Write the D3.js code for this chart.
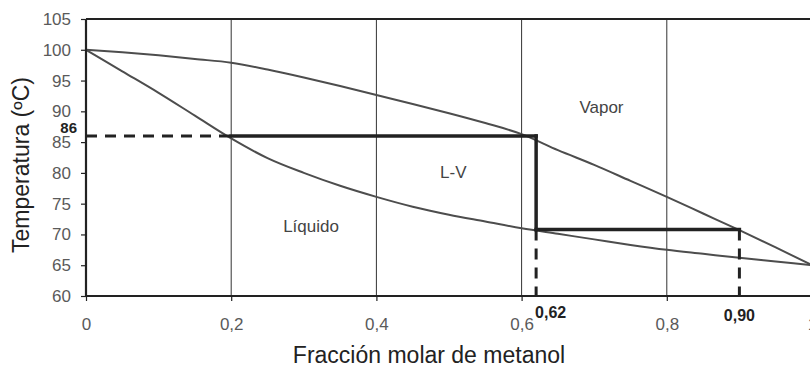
<!DOCTYPE html>
<html>
<head>
<meta charset="utf-8">
<script src="https://cdn.jsdelivr.net/npm/d3@7"></script>
<style>
  html, body { margin: 0; padding: 0; background: #fff; }
  svg { display: block; font-family: "Liberation Sans", Arial, sans-serif; }
</style>
</head>
<body>
<svg id="chart" width="810" height="367"></svg>
<script>
// Methanol–water T-x-y diagram at 1 atm
const composition = [0, 0.05, 0.1, 0.15, 0.2, 0.25, 0.3, 0.35, 0.4, 0.45, 0.5,
                     0.55, 0.6, 0.65, 0.7, 0.75, 0.8, 0.85, 0.9, 0.95, 1.0];
// bubble-point (liquid) curve, ºC
const liquidTemp = [100, 96.5, 93.0, 89.3, 85.6, 82.4, 80.0, 77.9, 76.1, 74.5, 73.2,
                    72.1, 71.0, 70.1, 69.2, 68.3, 67.5, 66.85, 66.2, 65.6, 65.0];
// dew-point (vapor) curve, ºC
const vaporTemp = [100, 99.6, 99.1, 98.5, 97.9, 96.8, 95.5, 94.1, 92.65, 91.2, 89.7,
                   88.1, 86.3, 83.7, 81.3, 78.7, 76.1, 73.4, 70.7, 67.9, 65.0];

// flash construction: feed heated to 86 ºC, then stepped down
const feedX = 0.2;
const stepX = [0.62, 0.90];
const stepT = [86, 70.8];
const stepXLabels = ["0,62", "0,90"];
const stepTLabel = "86";

const yTicks = [60, 65, 70, 75, 80, 85, 90, 95, 100, 105];
const xTicks = [0, 0.2, 0.4, 0.6, 0.8, 1.0];

const regionNames = ["Vapor", "L-V", "Líquido"];
const regionPos = [[0.71, 89.8], [0.506, 79.2], [0.31, 70.4]];

const svg = d3.select("#chart");
const plotL = 86, plotT = 19, plotB = 296, plotR = 812;

const x = d3.scaleLinear().domain([0, 1]).range([plotL, plotR]);
const y = d3.scaleLinear().domain([60, 105]).range([plotB, plotT]);

const dark = "#222";
const curveCol = "#4d4d4d";
const tickCol = "#5a5a5a";

// vertical gridlines
svg.append("g")
  .selectAll("line")
  .data(xTicks.filter(d => d > 0 && d < 1))
  .join("line")
  .attr("x1", d => x(d)).attr("x2", d => x(d))
  .attr("y1", y(105)).attr("y2", y(60))
  .attr("stroke", "#333").attr("stroke-width", 1);

// top frame line
svg.append("line")
  .attr("x1", x(0)).attr("x2", x(1))
  .attr("y1", y(105)).attr("y2", y(105))
  .attr("stroke", dark).attr("stroke-width", 2);

// curves
const line = d3.line().curve(d3.curveMonotoneX);
const liquidPts = composition.map((c, i) => [x(c), y(liquidTemp[i])]);
const vaporPts = composition.map((c, i) => [x(c), y(vaporTemp[i])]);
svg.append("path").attr("d", line(liquidPts))
  .attr("fill", "none").attr("stroke", curveCol).attr("stroke-width", 2);
svg.append("path").attr("d", line(vaporPts))
  .attr("fill", "none").attr("stroke", curveCol).attr("stroke-width", 2);

// dashed guides
const dash = "11,8";
svg.append("line")
  .attr("x1", x(0)).attr("x2", x(feedX))
  .attr("y1", y(stepT[0])).attr("y2", y(stepT[0]))
  .attr("stroke", dark).attr("stroke-width", 3).attr("stroke-dasharray", dash);
stepX.forEach(v => {
  svg.append("line")
    .attr("x1", x(v)).attr("x2", x(v))
    .attr("y1", y(stepT[1])).attr("y2", y(60))
    .attr("stroke", dark).attr("stroke-width", 3).attr("stroke-dasharray", dash);
});

// solid construction steps
const steps = [
  [[feedX, stepT[0]], [stepX[0], stepT[0]]],
  [[stepX[0], stepT[0]], [stepX[0], stepT[1]]],
  [[stepX[0], stepT[1]], [stepX[1], stepT[1]]]
];
svg.append("g").selectAll("line").data(steps).join("line")
  .attr("x1", d => x(d[0][0])).attr("y1", d => y(d[0][1]))
  .attr("x2", d => x(d[1][0])).attr("y2", d => y(d[1][1]))
  .attr("stroke", dark).attr("stroke-width", 3.5)
  .attr("stroke-linecap", "square");

// axes
const fmt = d => String(+d.toFixed(1)).replace(".", ",");
const yAxis = svg.append("g")
  .attr("transform", `translate(${plotL},0)`)
  .call(d3.axisLeft(y).tickValues(yTicks).tickSize(5).tickPadding(10));
const xAxis = svg.append("g")
  .attr("transform", `translate(0,${plotB})`)
  .call(d3.axisBottom(x).tickValues(xTicks).tickSize(5).tickPadding(17).tickFormat(fmt));
[yAxis, xAxis].forEach(g => {
  g.select(".domain").attr("stroke", dark).attr("stroke-width", 2.2);
  g.selectAll(".tick line").attr("stroke", dark).attr("stroke-width", 1.2);
  g.selectAll(".tick text")
    .attr("fill", tickCol)
    .attr("font-size", 17)
    .attr("font-family", "Liberation Sans, Arial, sans-serif");
});
yAxis.select(".domain").attr("d", `M0,${plotB}V${plotT}`);
xAxis.select(".domain").attr("d", `M${plotL},0H${plotR}`);

// value labels for the construction
svg.append("text").text(stepTLabel)
  .attr("x", 77).attr("y", 133)
  .attr("text-anchor", "end")
  .attr("font-size", 15).attr("font-weight", "bold").attr("fill", dark);
svg.append("text").text(stepXLabels[0])
  .attr("x", x(stepX[0]) - 1).attr("y", 318)
  .attr("font-size", 16).attr("font-weight", "bold").attr("fill", dark);
svg.append("text").text(stepXLabels[1])
  .attr("x", x(stepX[1])).attr("y", 321)
  .attr("text-anchor", "middle")
  .attr("font-size", 16).attr("font-weight", "bold").attr("fill", dark);

// region names
svg.append("g").selectAll("text").data(regionNames).join("text")
  .text(d => d)
  .attr("x", (d, i) => x(regionPos[i][0]))
  .attr("y", (d, i) => y(regionPos[i][1]))
  .attr("text-anchor", "middle")
  .attr("font-size", 17).attr("fill", "#444");

// axis titles
svg.append("text").text("Fracción molar de metanol")
  .attr("x", 429).attr("y", 363)
  .attr("text-anchor", "middle")
  .attr("font-size", 23).attr("fill", "#222");
svg.append("text").text("Temperatura (ºC)")
  .attr("transform", "translate(29,165) rotate(-90)")
  .attr("text-anchor", "middle")
  .attr("font-size", 23).attr("fill", "#222");
</script>
</body>
</html>
